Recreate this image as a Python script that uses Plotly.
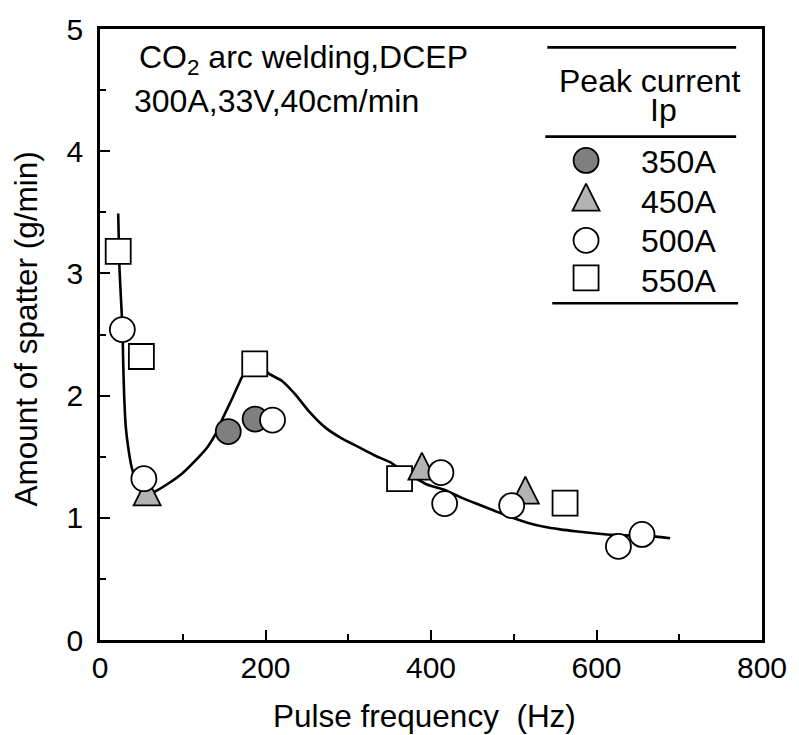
import plotly.graph_objects as go

# ---------------- data ----------------
sq_x = [22, 50, 187, 362, 562]            # Ip = 550A
sq_y = [3.18, 2.32, 2.26, 1.32, 1.12]

tri_x = [57, 389, 514]                     # Ip = 450A
tri_y = [1.175, 1.386, 1.19]

dk_x = [155, 187.5]                        # Ip = 350A
dk_y = [1.706, 1.808]

op_x = [27, 53, 208.5, 412, 416.5, 497.5, 626.5, 655]   # Ip = 500A
op_y = [2.54, 1.32, 1.80, 1.37, 1.116, 1.10, 0.766, 0.864]

# hand-drawn trend curve
curve_x = [22, 23.3, 25.2, 27.2, 28, 29.2, 31.2, 34, 38, 44, 50, 56, 64, 84, 100, 116,
           130, 140, 148, 160, 171.4, 180, 190, 197, 204, 220, 236, 252, 272, 292, 312,
           332, 352, 362, 380, 396, 416, 436, 456, 476, 496, 516.5, 536.6, 556, 577,
           600, 621, 645, 672, 689]
curve_y = [3.49, 3.08, 2.81, 2.54, 2.28, 2.0, 1.74, 1.58, 1.42, 1.29, 1.21, 1.18, 1.205,
           1.287, 1.367, 1.474, 1.58, 1.688, 1.81, 1.98, 2.15, 2.24, 2.26, 2.23, 2.18,
           2.12, 2.01, 1.875, 1.74, 1.65, 1.58, 1.51, 1.45, 1.40, 1.33, 1.27, 1.23,
           1.167, 1.113, 1.06, 1.006, 0.96, 0.926, 0.905, 0.888, 0.872, 0.86, 0.853,
           0.846, 0.832]

legend_labels = ["350A", "450A", "500A", "550A"]
x_ticks = [0, 200, 400, 600, 800]
y_ticks = [0, 1, 2, 3, 4, 5]

# ---------------- styling ----------------
FONT = "Liberation Sans, Arial, sans-serif"
FS_TICK = 30
FS_TEXT = 32
FS_TITLE = 31.5
DARK = "#7f7f7f"
LIGHT = "#b3b3b3"
MS = 25        # circle / square size
TS = 27        # triangle size

W, H = 799, 735
L, R, T, B = 100, 33, 17, 95
PW, PH = W - L - R, H - T - B


def px(xp):
    return (xp - L) / PW


def py(yp):
    return (H - B - yp) / PH


circle_style = dict(symbol="circle", size=MS, line=dict(color="black", width=1.8))
square_style = dict(symbol="square", size=MS, color="white", line=dict(color="black", width=1.8))
tri_style = dict(symbol="arrow-down", angle=180, standoff=TS * 2 / 3, size=TS,
                 color=LIGHT, line=dict(color="black", width=1.8))

fig = go.Figure()
fig.add_trace(go.Scatter(x=curve_x, y=curve_y, mode="lines",
                         line=dict(color="black", width=2.6, shape="spline", smoothing=0.5),
                         hoverinfo="skip"))
fig.add_trace(go.Scatter(x=sq_x, y=sq_y, mode="markers", marker=square_style, name="550A"))
fig.add_trace(go.Scatter(x=tri_x, y=tri_y, mode="markers", marker=tri_style, name="450A"))
fig.add_trace(go.Scatter(x=dk_x, y=dk_y, mode="markers", marker=dict(**circle_style, color=DARK), name="350A"))
fig.add_trace(go.Scatter(x=op_x, y=op_y, mode="markers", marker=dict(**circle_style, color="white"), name="500A"))

# ---- custom legend (symbols on an overlay axis in plot-fraction units) ----
leg_sym_x = px(589)
leg_rows_y = [py(151), py(193), py(232.5), py(270.7)]
fig.add_trace(go.Scatter(x=[leg_sym_x], y=[leg_rows_y[0]], xaxis="x2", yaxis="y2", mode="markers",
                         marker=dict(**circle_style, color=DARK)))
fig.add_trace(go.Scatter(x=[leg_sym_x], y=[leg_rows_y[1]], xaxis="x2", yaxis="y2", mode="markers",
                         marker=tri_style))
fig.add_trace(go.Scatter(x=[leg_sym_x], y=[leg_rows_y[2]], xaxis="x2", yaxis="y2", mode="markers",
                         marker=dict(**circle_style, color="white")))
fig.add_trace(go.Scatter(x=[leg_sym_x], y=[leg_rows_y[3]], xaxis="x2", yaxis="y2", mode="markers",
                         marker=square_style))

txt_font = dict(family=FONT, size=FS_TEXT, color="black")
ttl_font = dict(family=FONT, size=FS_TITLE, color="black")

annotations = []
label_rows_y = [py(153), py(193), py(233.5), py(274)]
for lab, yy in zip(legend_labels, label_rows_y):
    annotations.append(dict(text=lab, x=px(642), y=yy, xref="paper", yref="paper",
                            xanchor="left", yanchor="middle", showarrow=False, font=txt_font))
annotations += [
    dict(text="Peak current", x=px(653), y=py(70), xref="paper", yref="paper",
         xanchor="center", yanchor="middle", showarrow=False, font=txt_font),
    dict(text="Ip", x=px(667), y=py(100), xref="paper", yref="paper",
         xanchor="center", yanchor="middle", showarrow=False, font=txt_font),
    dict(text="CO<sub>2</sub> arc welding,DCEP", x=px(137), y=py(48), xref="paper", yref="paper",
         xanchor="left", yanchor="middle", showarrow=False, font=txt_font),
    dict(text="300A,33V,40cm/min", x=px(132), y=py(90), xref="paper", yref="paper",
         xanchor="left", yanchor="middle", showarrow=False, font=txt_font),
    dict(text="Pulse frequency  (Hz)", x=px(426), y=py(717), xref="paper", yref="paper",
         xanchor="center", yanchor="middle", showarrow=False, font=ttl_font),
    dict(text="Amount of spatter (g/min)", x=px(26), y=py(323), xref="paper", yref="paper",
         xanchor="center", yanchor="middle", showarrow=False, textangle=-90, font=ttl_font),
]

shapes = []
for (x0, x1, yy) in [(550, 740, 35.7), (548, 740, 126.7), (555, 742, 296.7)]:
    shapes.append(dict(type="line", xref="paper", yref="paper", x0=px(x0), x1=px(x1),
                       y0=py(yy), y1=py(yy), line=dict(color="black", width=2.6)))

axis_common = dict(showgrid=False, zeroline=False, showline=True, linecolor="black",
                   linewidth=2.6, mirror=True, ticks="inside", ticklen=10, tickwidth=2,
                   tickcolor="black", tickfont=dict(family=FONT, size=FS_TICK, color="black"))

fig.update_layout(
    width=W, height=H,
    margin=dict(l=L, r=R, t=T, b=B, pad=0),
    paper_bgcolor="white", plot_bgcolor="white",
    showlegend=False,
    font=dict(family=FONT, size=FS_TICK, color="black"),
    xaxis=dict(range=[0, 800], tickvals=x_ticks, ticktext=[str(v) for v in x_ticks],
               minor=dict(dtick=100, ticks="inside", ticklen=6, tickwidth=2, tickcolor="black"),
               ticklabelstandoff=-1, **axis_common),
    yaxis=dict(range=[0, 5], tickvals=y_ticks, ticktext=[str(v) for v in y_ticks],
               minor=dict(dtick=0.5, ticks="inside", ticklen=6, tickwidth=2, tickcolor="black"),
               ticklabelstandoff=8, **axis_common),
    xaxis2=dict(overlaying="x", range=[0, 1], visible=False, anchor="y2"),
    yaxis2=dict(overlaying="y", range=[0, 1], visible=False, anchor="x2"),
    annotations=annotations,
    shapes=shapes,
)

fig.write_html("out.html")
